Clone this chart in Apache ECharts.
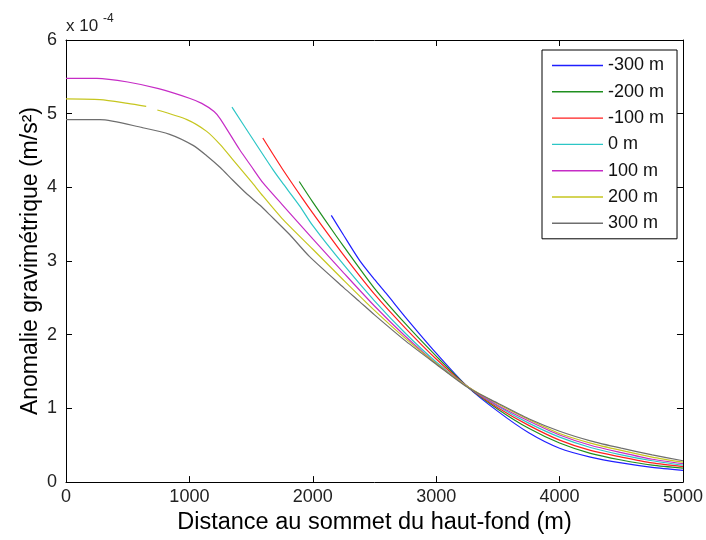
<!DOCTYPE html>
<html>
<head>
<meta charset="utf-8">
<script src="https://cdn.jsdelivr.net/npm/echarts@6/dist/echarts.min.js"></script>
<style>html,body{margin:0;padding:0;background:#fff;}#c{width:706px;height:540px;}</style>
</head>
<body>
<div id="c"></div>
<script>
// Legend names / series labels
const seriesNames = ['-300 m', '-200 m', '-100 m', '0 m', '100 m', '200 m', '300 m'];
const seriesColors = ['#1f1fff', '#1f8f1f', '#ff1f1f', '#2cc6c6', '#c62cc6', '#c6c61f', '#6e6e6e'];

// Distance (m) and anomaly (x1e-4 m/s^2) for each curve
const xM300 = [2150, 2250, 2379, 2500, 2600, 2750, 3000, 3250, 3500, 3750, 4000, 4250, 4500, 4750, 5000];
const yM300 = [3.62, 3.35, 3.01, 2.75, 2.55, 2.24, 1.75, 1.30, 0.96, 0.67, 0.46, 0.34, 0.26, 0.20, 0.16];

const xM200 = [1890, 2000, 2190, 2250, 2500, 2750, 3000, 3250, 3500, 3750, 4000, 4250, 4500, 4750, 5000];
const yM200 = [4.08, 3.80, 3.34, 3.20, 2.63, 2.15, 1.71, 1.30, 0.99, 0.73, 0.53, 0.39, 0.30, 0.23, 0.19];

const xM100 = [1595, 1750, 1920, 2000, 2250, 2500, 2750, 3000, 3250, 3500, 3750, 4000, 4250, 4500, 4750, 5000];
const yM100 = [4.67, 4.26, 3.84, 3.65, 3.08, 2.55, 2.09, 1.67, 1.30, 1.01, 0.77, 0.57, 0.43, 0.34, 0.26, 0.21];

const xP0 = [1345, 1500, 1677, 1750, 1893, 2000, 2250, 2500, 2750, 3000, 3250, 3500, 3750, 4000, 4250, 4500, 4750, 5000];
const yP0 = [5.09, 4.69, 4.24, 4.07, 3.75, 3.48, 2.95, 2.46, 2.02, 1.63, 1.30, 1.03, 0.80, 0.61, 0.47, 0.37, 0.29, 0.23];

const xP100 = [0, 250, 500, 750, 1000, 1100, 1200, 1250, 1408, 1500, 1597, 1750, 2000, 2250, 2500, 2750, 3000, 3250, 3500, 3750, 4000, 4250, 4500, 4750, 5000];
const yP100 = [5.48, 5.48, 5.43, 5.34, 5.21, 5.14, 5.03, 4.93, 4.51, 4.29, 4.06, 3.77, 3.30, 2.84, 2.39, 1.98, 1.61, 1.30, 1.04, 0.83, 0.64, 0.50, 0.40, 0.31, 0.25];

// null marks the small gap in the 200 m curve
const xP200 = [0, 275, 500, 650, 695, 740, 980, 1140, 1250, 1350, 1500, 1597, 1750, 2000, 2250, 2500, 2750, 3000, 3250, 3500, 3750, 4000, 4250, 4500, 4750, 5000];
const yP200 = [5.20, 5.19, 5.14, 5.10, null, 5.05, 4.92, 4.76, 4.58, 4.38, 4.08, 3.88, 3.58, 3.16, 2.74, 2.33, 1.95, 1.61, 1.30, 1.06, 0.85, 0.66, 0.53, 0.43, 0.34, 0.27];

const xP300 = [0, 275, 620, 840, 1030, 1140, 1250, 1350, 1460, 1570, 1650, 1812, 1974, 2250, 2379, 2500, 2756, 3000, 3250, 3500, 3750, 4000, 4250, 4500, 4750, 5000];
const yP300 = [4.92, 4.92, 4.81, 4.72, 4.57, 4.43, 4.27, 4.10, 3.92, 3.76, 3.63, 3.36, 3.06, 2.64, 2.45, 2.27, 1.91, 1.60, 1.29, 1.07, 0.86, 0.69, 0.56, 0.46, 0.37, 0.29];

const xTicks = [0, 1000, 2000, 3000, 4000, 5000];
const yTicks = [0, 1, 2, 3, 4, 5, 6];

const xs = [xM300, xM200, xM100, xP0, xP100, xP200, xP300];
const ys = [yM300, yM200, yM100, yP0, yP100, yP200, yP300];

const FONT = 'Liberation Sans, Arial, sans-serif';
const chart = echarts.init(document.getElementById('c'), null, {renderer: 'canvas'});

const series = seriesNames.map((name, i) => ({
  name: name,
  type: 'line',
  xAxisIndex: 0,
  yAxisIndex: 0,
  symbol: 'none',
  smooth: 0.25,
  connectNulls: false,
  animation: false,
  lineStyle: {color: seriesColors[i], width: 1.2},
  itemStyle: {color: seriesColors[i]},
  data: xs[i].map((x, j) => [x, ys[i][j]])
}));

const axisCommon = {
  axisLine: {show: true, onZero: false, lineStyle: {color: '#000', width: 1}},
  axisTick: {show: true, inside: true, length: 6, lineStyle: {color: '#000'}},
  splitLine: {show: false}
};

chart.setOption({
  backgroundColor: '#fff',
  animation: false,
  grid: {left: 66, right: 22, top: 40, bottom: 56, containLabel: false},
  legend: {
    show: true,
    data: seriesNames.map((n, i) => ({name: n, icon: 'rect', itemStyle: {color: seriesColors[i]}})),
    orient: 'vertical',
    left: 542,
    top: 50,
    backgroundColor: '#fff',
    borderColor: '#000',
    borderWidth: 1,
    borderRadius: 0,
    padding: [6.5, 13, 6.5, 10],
    itemWidth: 51,
    itemHeight: 1.4,
    itemGap: 8.3,
    textStyle: {fontFamily: FONT, fontSize: 18, color: '#111'}
  },
  xAxis: [
    Object.assign({}, axisCommon, {
      type: 'value', min: xTicks[0], max: xTicks[xTicks.length - 1], interval: 1000,
      position: 'bottom',
      name: 'Distance au sommet du haut-fond (m)',
      nameLocation: 'middle', nameGap: 24,
      nameTextStyle: {fontFamily: FONT, fontSize: 23.5, color: '#000'},
      axisLabel: {fontFamily: FONT, fontSize: 18, color: '#222', margin: 6, formatter: v => String(v)}
    }),
    Object.assign({}, axisCommon, {
      type: 'value', min: xTicks[0], max: xTicks[xTicks.length - 1], interval: 1000,
      position: 'top', axisLabel: {show: false}
    })
  ],
  yAxis: [
    Object.assign({}, axisCommon, {
      type: 'value', min: yTicks[0], max: yTicks[yTicks.length - 1], interval: 1,
      position: 'left',
      name: 'Anomalie gravimétrique (m/s²)',
      nameLocation: 'middle', nameGap: 24, nameMoveOverlap: false,
      nameTextStyle: {fontFamily: FONT, fontSize: 23, color: '#000'},
      axisLabel: {fontFamily: FONT, fontSize: 18, color: '#222', margin: 9, formatter: v => String(v)}
    }),
    Object.assign({}, axisCommon, {
      type: 'value', min: yTicks[0], max: yTicks[yTicks.length - 1], interval: 1,
      position: 'right', axisLabel: {show: false}
    })
  ],
  graphic: [
    {type: 'text', left: 66, top: 18, style: {text: 'x 10', font: '17px ' + FONT, fill: '#222'}},
    {type: 'text', left: 103, top: 13, style: {text: '-4', font: '12px ' + FONT, fill: '#222'}}
  ],
  series: series
});
</script>
</body>
</html>
